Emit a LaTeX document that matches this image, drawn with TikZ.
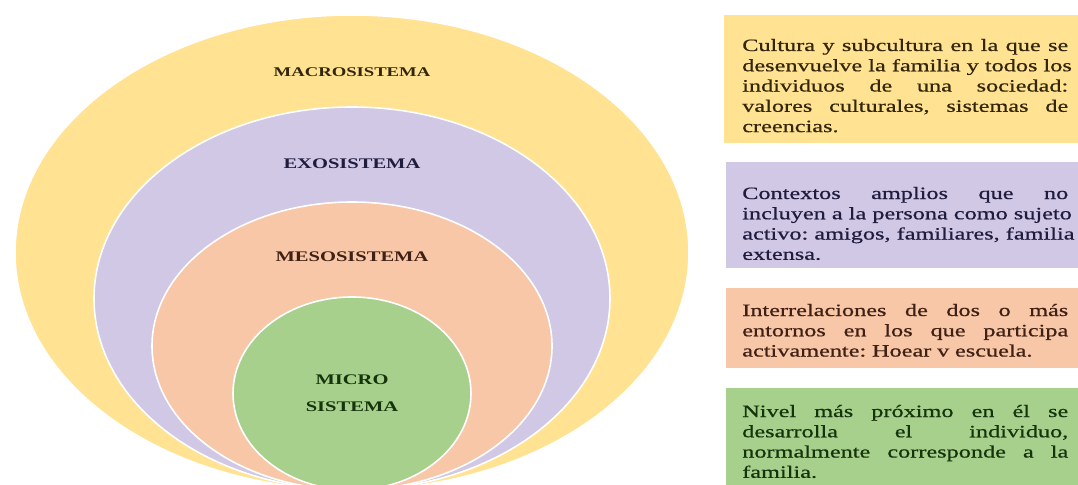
\documentclass[tikz,border=0pt]{standalone}
\usepackage{fontspec}
\setmainfont{Liberation Serif}
\newfontfamily\widefont[FakeStretch=1.4]{Liberation Serif}
\newfontfamily\infofont[FakeStretch=1.4,FakeBold=0.6]{Liberation Serif}
\frenchspacing

\definecolor{macrocol}{RGB}{255,226,146}
\definecolor{exocol}{RGB}{208,200,228}
\definecolor{mesocol}{RGB}{247,199,168}
\definecolor{microcol}{RGB}{166,208,140}
\definecolor{macrodark}{RGB}{50,38,12}
\definecolor{exodark}{RGB}{32,28,62}
\definecolor{mesodark}{RGB}{62,32,20}
\definecolor{microdark}{RGB}{22,52,12}

\newcommand{\fullline}[1]{\noindent\hbox to\hsize{\spaceskip=\fontdimen2\font plus 1fill\xspaceskip=\spaceskip #1}\par}
\newcommand{\lastline}[1]{\noindent #1\par}

\begin{document}
\begin{tikzpicture}[x=0.75pt,y=-0.75pt,
    ring/.style={draw=white, line width=1.2pt},
    ringlabel/.style={font=\widefont\bfseries\fontsize{11}{20}\selectfont, align=center},
    info/.style={anchor=base west, inner sep=0pt, text width=244.5pt,
        font=\infofont\fontsize{13}{15.2}\selectfont}]

    \def\macroshape{(352,252.5) ellipse (337 and 237.5)}
    \def\exoshape{(352,298.5) ellipse (258 and 191.5)}
    \def\mesoshape{(352,346) ellipse (200 and 144)}
    \def\microshape{(352,393.5) ellipse (119 and 96.5)}

    \useasboundingbox (0,0) rectangle (1078,485);
    \clip (0,0) rectangle (1078,485);

    %draw ellipses:
    \filldraw[ring, fill=macrocol] \macroshape;
    \filldraw[ring, fill=exocol] \exoshape;
    \filldraw[ring, fill=mesocol] \mesoshape;
    \filldraw[ring, fill=microcol] \microshape;

    \node[ringlabel, text=macrodark, font=\widefont\bfseries\fontsize{10}{12}\selectfont] (macrolabel) at (352,72) {MACROSISTEMA};
    \node[ringlabel, text=exodark] (exolabel) at (352,164) {EXOSISTEMA};
    \node[ringlabel, text=mesodark] (mesolabel) at (352,257) {MESOSISTEMA};
    \node[ringlabel, text=microdark] (microlabel) at (352,393.5) {MICRO\\SISTEMA};

    %Color boxes:
    \fill[macrocol] (724,15) rectangle (1078,143);
    \fill[exocol] (726,162) rectangle (1078,268);
    \fill[mesocol] (726,288) rectangle (1078,368);
    \fill[microcol] (726,388) rectangle (1078,495);

    \node[info, text=macrodark] (macroinfo) at (742,51) {%
        \fullline{Cultura y subcultura en la que se}%
        \fullline{desenvuelve la familia y todos los}%
        \fullline{individuos de una sociedad:}%
        \fullline{valores culturales, sistemas de}%
        \lastline{creencias.}};
    \node[info, text=exodark] (exoinfo) at (742,199) {%
        \fullline{Contextos amplios que no}%
        \fullline{incluyen a la persona como sujeto}%
        \fullline{activo: amigos, familiares, familia}%
        \lastline{extensa.}};
    \node[info, text=mesodark] (mesoinfo) at (742,316) {%
        \fullline{Interrelaciones de dos o más}%
        \fullline{entornos en los que participa}%
        \lastline{activamente: Hoear v escuela.}};
    \node[info, text=microdark] (microinfo) at (742,417) {%
        \fullline{Nivel más próximo en él se}%
        \fullline{desarrolla el individuo,}%
        \fullline{normalmente corresponde a la}%
        \lastline{familia.}};

\end{tikzpicture}
\end{document}
